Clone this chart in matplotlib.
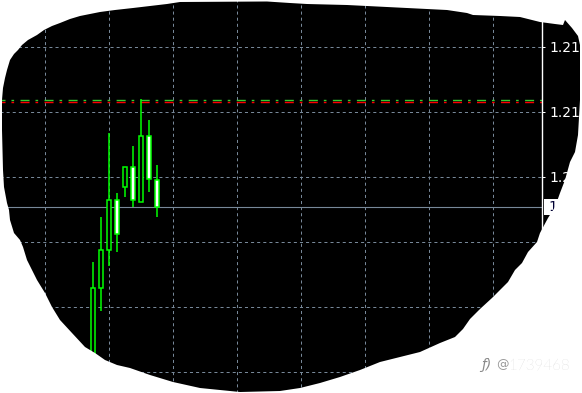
import numpy as np
import matplotlib
matplotlib.use("Agg")
import matplotlib.pyplot as plt
import matplotlib.transforms as mtransforms
from matplotlib.patches import Rectangle, PathPatch
from matplotlib.path import Path

plt.rcParams['lines.scale_dashes'] = False

# candles (bar index 0..8)
opens  = [1.19354, 1.19946, 1.20238, 1.20623, 1.20721, 1.20875, 1.20610, 1.21115, 1.20777]
highs  = [1.20146, 1.20495, 1.21138, 1.20677, 1.20875, 1.21038, 1.21400, 1.21238, 1.20892]
lows   = [1.19300, 1.19773, 1.20115, 1.20223, 1.20644, 1.20572, 1.20610, 1.20687, 1.20495]
closes = [1.19946, 1.20238, 1.20623, 1.20362, 1.20875, 1.20623, 1.21115, 1.20782, 1.20572]

price_ticks = [1.2180, 1.2130, 1.2080, 1.2030, 1.1980, 1.1930]
price_labels = ['1.2180', '1.2130', '1.2080', '1.2030', '1.1980', '1.1930']
grid_bars = [-6, 2, 10, 18, 26, 34, 42, 50]

bid = 1.20572
level_green = 1.21392
level_red = 1.21377
bid_label = '1.2057'

# outline of the torn screenshot (figure pixels, y down)
blob = [(2, 100), (3, 88), (5, 78), (7, 70), (10, 60), (14, 54), (18, 50), (22, 45),
        (28, 40), (37, 35), (44, 30), (52, 26), (60, 23), (70, 19), (80, 16), (90, 14),
        (100, 12), (115, 10), (133, 8), (150, 6), (167, 4), (180, 2), (267, 1.5),
        (290, 3), (307, 4), (347, 5), (367, 6), (387, 7), (427, 9), (447, 10), (467, 13),
        (473, 15), (500, 16), (520, 17), (540, 22), (555, 24), (563, 25), (565, 20),
        (572, 28), (578, 36), (580, 45), (580, 100), (578, 135), (575, 152), (570, 162),
        (565, 180), (560, 193), (555, 207), (548, 218), (540, 233), (537, 242),
        (528, 252), (522, 263), (515, 270), (508, 282), (500, 290), (492, 298),
        (480, 309), (470, 319), (463, 329), (455, 337), (440, 343), (420, 352),
        (400, 357), (380, 362), (360, 370), (340, 377), (320, 383), (300, 388),
        (280, 391), (240, 392), (200, 388), (173, 382), (150, 375), (130, 368),
        (117, 365), (105, 360), (95, 353), (85, 347), (72, 333), (60, 320), (52, 307),
        (45, 293), (37, 280), (32, 270), (27, 260), (23, 247), (20, 240), (14, 233),
        (10, 220), (9, 210), (7, 203), (4, 187), (3, 170), (2, 130)]

W, H = 582, 393
AX_W = 542
CANDLE = '#00ff00'
GRID = '#778899'
PX = 0.72  # one pixel in points
PRICE_PER_PX = 0.005 / 65


def signed_area(pts):
    p = np.asarray(pts, dtype=float)
    return 0.5 * np.sum(p[:, 0] * np.roll(p[:, 1], -1) - np.roll(p[:, 0], -1) * p[:, 1])


def draw_chart(ax):
    ax.set_facecolor('black')
    ax.set_xlim(-92.5 / 8, (AX_W - 92.5) / 8)
    top = 1.2180 + 47 * PRICE_PER_PX
    bottom = 1.2180 - (H - 47) * PRICE_PER_PX
    ax.set_ylim(bottom, top)

    for i in range(len(opens)):
        o, c = opens[i], closes[i]
        ax.vlines(i, lows[i], highs[i], color=CANDLE, lw=1.1, zorder=3)
        face = 'black' if c >= o else 'white'
        ax.add_patch(Rectangle((i - 0.25, min(o, c)), 0.5, abs(c - o),
                               facecolor=face, edgecolor=CANDLE, lw=1.1, zorder=4))

    dash = (2.9, (6.5, 4.3, 1.9, 4.6))
    ax.axhline(level_green, color='#32cd32', lw=1.0, linestyle=dash, zorder=2)
    ax.axhline(level_red, color='#ff0000', lw=1.0, linestyle=dash, zorder=2)
    ax.axhline(bid, color=GRID, lw=0.8, zorder=2)

    ax.set_xticks(grid_bars)
    ax.set_yticks(price_ticks)
    ax.set_yticklabels(price_labels)
    ax.yaxis.tick_right()
    ax.tick_params(axis='x', length=0, labelbottom=False)
    ax.tick_params(axis='y', colors='white', length=2.2, width=PX, pad=3, labelsize=10)
    ax.grid(True, color=GRID, lw=PX, linestyle=(0, (2.2, 2.2)))
    ax.set_axisbelow(True)

    for s in ['top', 'bottom', 'left']:
        ax.spines[s].set_visible(False)
    ax.spines['right'].set_color('white')
    ax.spines['right'].set_linewidth(1.0)
    ax.spines['right'].set_zorder(5)

    # bid price box on the price scale
    trans = mtransforms.blended_transform_factory(ax.transAxes, ax.transData)
    ax.add_patch(Rectangle((1.0 + 1.5 / AX_W, bid - 8 * PRICE_PER_PX), 24 / AX_W,
                           16 * PRICE_PER_PX, transform=trans, facecolor='white',
                           edgecolor='none', clip_on=False, zorder=6))
    ax.text(1.0 + 6 / AX_W, bid, bid_label, transform=trans, ha='left', va='center',
            fontsize=10, color='#000033', clip_on=False, zorder=7)


def draw_mask(fig):
    over = fig.add_axes([0, 0, 1, 1], zorder=10)
    over.set_xlim(0, W)
    over.set_ylim(H, 0)
    over.axis('off')
    over.patch.set_visible(False)

    outer = [(-5, -5), (W + 5, -5), (W + 5, H + 5), (-5, H + 5)]
    inner = list(blob)
    if np.sign(signed_area(outer)) == np.sign(signed_area(inner)):
        inner = inner[::-1]
    verts = outer + [outer[0]] + inner + [inner[0]]
    codes = ([Path.MOVETO] + [Path.LINETO] * (len(outer) - 1) + [Path.CLOSEPOLY] +
             [Path.MOVETO] + [Path.LINETO] * (len(inner) - 1) + [Path.CLOSEPOLY])
    over.add_patch(PathPatch(Path(verts, codes), facecolor='white', edgecolor='none'))

    over.text(481, 365, 'ƒ)', fontsize=10, color='#8a8a8a', style='italic', va='center')
    over.text(496, 365, '@', fontsize=9, color='#9a9a9a', va='center')
    over.text(508, 365, '1739468', fontsize=11, color='#c8c8c8', va='center',
              family='Lato', fontweight='light')
    return over


def run_main():
    fig = plt.figure(figsize=(W / 100, H / 100), dpi=100)
    fig.patch.set_facecolor('black')
    ax = fig.add_axes([0, 0, AX_W / W, 1])
    draw_chart(ax)
    draw_mask(fig)
    fig.savefig('out.png', dpi=100, facecolor='black')


if __name__ == "__main__":
    run_main()
